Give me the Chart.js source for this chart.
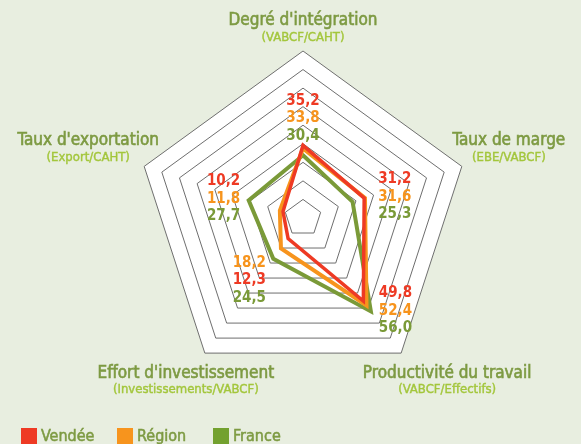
<!DOCTYPE html>
<html lang="fr">
<head>
<meta charset="utf-8">
<script src="https://cdn.jsdelivr.net/npm/chart.js@4.4.0/dist/chart.umd.min.js"></script>
<style>
  html, body { margin: 0; padding: 0; background: #e8eee0; overflow: hidden; }
  #wrap { position: relative; width: 581px; height: 444px; }
  #legend { position: absolute; left: 21px; top: 428px; display: flex;
    font-family: "DejaVu Sans Condensed", "DejaVu Sans", sans-serif; font-size: 16px; line-height: 16px; color: #7d9a42;
    -webkit-text-stroke: 0.5px #7d9a42; }
  .item { width: 96px; display: flex; }
  .box { width: 16px; height: 16px; margin-right: 4px; }
</style>
</head>
<body>
<div id="wrap">
  <canvas id="radar" width="581" height="444"></canvas>
  <div id="legend"></div>
</div>
<script>
const axes = ["Degré d'intégration", "Taux de marge", "Productivité du travail", "Effort d'investissement", "Taux d'exportation"];
const axisUnits = ["(VABCF/CAHT)", "(EBE/VABCF)", "(VABCF/Effectifs)", "(Investissements/VABCF)", "(Export/CAHT)"];
const vendee = [35.2, 31.2, 49.8, 12.3, 10.2];
const region = [33.8, 31.6, 52.4, 18.2, 11.8];
const france = [30.4, 25.3, 56.0, 24.5, 27.7];
const seriesNames = ["Vendée", "Région", "France"];
const lineColors = ["#ee3a24", "#f7941d", "#7a9a38"];
const swatchColors = ["#ee3a24", "#f7941d", "#73a12f"];
const scaleMax = 81;
const scaleStep = 9;

const FONT = '"DejaVu Sans Condensed", "DejaVu Sans", sans-serif';
const series = [vendee, region, france];

// where the titles and the value blocks sit, relative to each axis
const titleOffsets = [[0, -30], [47, -26], [46, 20], [-19, 20], [-56, -26]];
const valueDist = [117, 79, 129, 63, 66];
const valueDy = [0, -14, -29, -6, -16];
const valueAlign = ["center", "left", "left", "right", "right"];
const valueOrder = [[0, 1, 2], [0, 1, 2], [0, 1, 2], [1, 0, 2], [0, 1, 2]];

function fmt(v) {
  return v.toFixed(1).replace(".", ",");
}

// text a bit heavier than the regular face
function heavyText(ctx, txt, x, y, color, w) {
  ctx.fillStyle = color;
  ctx.strokeStyle = color;
  ctx.lineWidth = w;
  ctx.fillText(txt, x, y);
  ctx.strokeText(txt, x, y);
}

// white pentagon under the grid
const pentagonFill = {
  id: "pentagonFill",
  beforeDraw(chart) {
    const r = chart.scales.r;
    const ctx = chart.ctx;
    ctx.save();
    ctx.beginPath();
    axes.forEach((a, i) => {
      const p = r.getPointPosition(i, r.drawingArea);
      if (i === 0) ctx.moveTo(p.x, p.y);
      else ctx.lineTo(p.x, p.y);
    });
    ctx.closePath();
    ctx.fillStyle = "#ffffff";
    ctx.fill();
    ctx.restore();
  }
};

// axis titles with their ratio below
const axisTitles = {
  id: "axisTitles",
  afterDraw(chart) {
    const r = chart.scales.r;
    const ctx = chart.ctx;
    ctx.save();
    ctx.textAlign = "center";
    ctx.textBaseline = "middle";
    axes.forEach((a, i) => {
      const p = r.getPointPosition(i, r.drawingArea);
      const x = p.x + titleOffsets[i][0];
      const y = p.y + titleOffsets[i][1];
      ctx.font = "17px " + FONT;
      heavyText(ctx, a, x, y, "#7d9a42", 0.6);
      ctx.font = "13px " + FONT;
      heavyText(ctx, axisUnits[i], x, y + 17, "#a3c63c", 0.4);
    });
    ctx.restore();
  }
};

// the three values stacked near each axis
const valueLabels = {
  id: "valueLabels",
  afterDatasetsDraw(chart) {
    const r = chart.scales.r;
    const ctx = chart.ctx;
    ctx.save();
    ctx.font = "bold 15px " + FONT;
    ctx.textBaseline = "middle";
    axes.forEach((a, i) => {
      const p = r.getPointPosition(i, valueDist[i]);
      ctx.textAlign = valueAlign[i];
      valueOrder[i].forEach((s, k) => {
        ctx.fillStyle = lineColors[s];
        ctx.fillText(fmt(series[s][i]), p.x, p.y + valueDy[i] + k * 17.5);
      });
    });
    ctx.restore();
  }
};

new Chart(document.getElementById("radar").getContext("2d"), {
  type: "radar",
  data: {
    labels: axes,
    datasets: series.map((s, i) => ({
      label: seriesNames[i],
      data: s,
      borderColor: lineColors[i],
      backgroundColor: lineColors[i],
      borderWidth: i === 0 ? 3.5 : 4,
      fill: false
    }))
  },
  options: {
    responsive: false,
    animation: false,
    layout: { padding: { left: 136, right: 111, top: 51, bottom: 59 } },
    plugins: { legend: { display: false }, tooltip: { enabled: false } },
    elements: {
      point: { radius: 0 },
      line: { tension: 0, borderJoinStyle: "miter" }
    },
    scales: {
      r: {
        min: 0,
        max: scaleMax,
        ticks: { display: false, stepSize: scaleStep },
        angleLines: { display: false },
        pointLabels: { display: false },
        grid: { color: "#6e6e6e", lineWidth: 1 }
      }
    }
  },
  plugins: [pentagonFill, axisTitles, valueLabels]
});

const legend = document.getElementById("legend");
seriesNames.forEach((name, i) => {
  const item = document.createElement("div");
  item.className = "item";
  item.innerHTML = '<span class="box" style="background:' + swatchColors[i] + '"></span><span>' + name + "</span>";
  legend.appendChild(item);
});
</script>
</body>
</html>
